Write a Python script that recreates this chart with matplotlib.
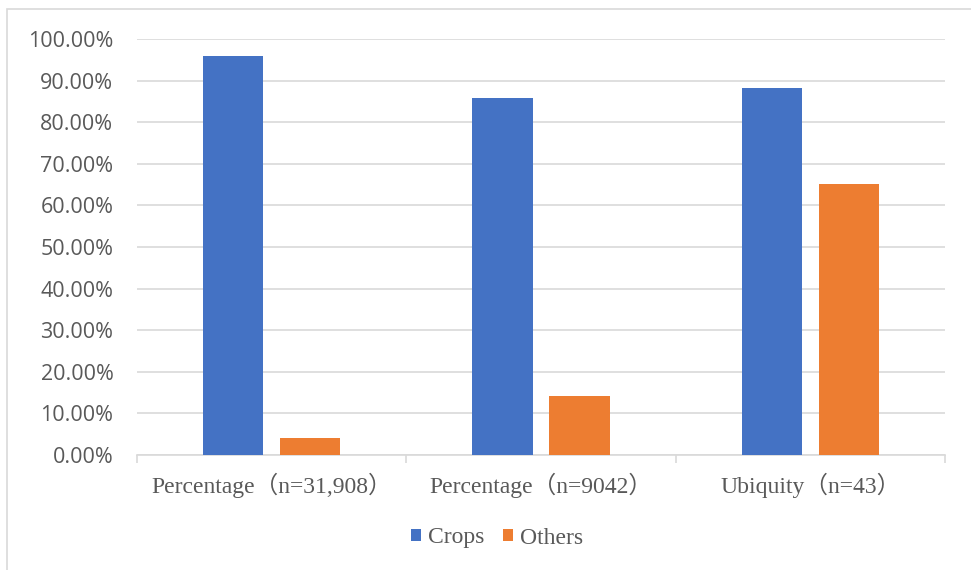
import matplotlib
matplotlib.use("Agg")
import matplotlib.pyplot as plt
from matplotlib.patches import Rectangle
from matplotlib.ticker import PercentFormatter
import numpy as np

categories = ["Percentage（n=31,908）", "Percentage（n=9042）", "Ubiquity（n=43）"]
crops = [95.9, 85.8, 88.3]
others = [4.1, 14.2, 65.1]

blue = "#4472C4"
orange = "#ED7D31"
grid = "#D9D9D9"
text_gray = "#595959"
serif = ["Liberation Serif", "Noto Sans CJK SC"]

fig = plt.figure(figsize=(9.71, 5.70), dpi=100)
ax = fig.add_axes([0.1411, 0.2018, 0.8321, 0.7298])

# outer chart frame, runs off the right and bottom edges
fig.patches.append(Rectangle((7 / 971, -0.1), 1.2, 1 - 9 / 570 + 0.1,
                             transform=fig.transFigure, fill=False,
                             edgecolor=grid, linewidth=1.2))

x = np.arange(len(categories))
w = 0.223
off = 0.143
ax.bar(x - off, crops, w, color=blue, label="Crops", zorder=3)
ax.bar(x + off, others, w, color=orange, label="Others", zorder=3)

ax.set_xlim(-0.5, len(categories) - 0.5)
ax.set_ylim(0, 100)
ax.set_yticks(np.arange(0, 101, 10))
ax.yaxis.set_major_formatter(PercentFormatter(decimals=2))
ax.grid(axis="y", color=grid, linewidth=1.2, zorder=0)

for s in ["top", "right", "left"]:
    ax.spines[s].set_visible(False)
ax.spines["bottom"].set_color(grid)
ax.spines["bottom"].set_linewidth(1.2)

ax.tick_params(axis="y", length=0, pad=17, labelsize=15.5, labelcolor=text_gray)
for lab in ax.get_yticklabels():
    lab.set_family("Open Sans")

# category boundary ticks below the axis
ax.set_xticks(np.arange(-0.5, len(categories), 1.0))
ax.set_xticklabels([])
ax.tick_params(axis="x", which="major", length=6, color=grid, width=1.2)
ax.set_xticks(x, minor=True)
ax.set_xticklabels(categories, minor=True, fontsize=17, color=text_gray)
ax.tick_params(axis="x", which="minor", length=0, pad=13)
for lab in ax.get_xticklabels(minor=True):
    lab.set_family(serif)

handles, labels = ax.get_legend_handles_labels()
leg = fig.legend(handles, labels, loc="center", bbox_to_anchor=(0.512, 1 - 538 / 570),
                 ncol=2, frameon=False, prop={"family": "Liberation Serif", "size": 17},
                 handlelength=0.42, handleheight=0.42,
                 handletextpad=0.3, columnspacing=0.8, borderpad=0)
for t in leg.get_texts():
    t.set_color(text_gray)

fig.savefig("out.png", dpi=100)
